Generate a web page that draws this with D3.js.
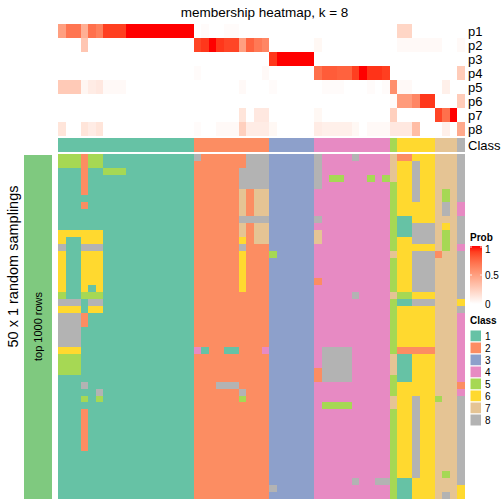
<!DOCTYPE html>
<html><head><meta charset="utf-8">
<script src="https://cdn.jsdelivr.net/npm/d3@7"></script>
<style>
body{margin:0;background:#fff}
text{font-family:"Liberation Sans",Arial,Helvetica,sans-serif;fill:#000}
</style>
</head><body>
<svg id="chart" width="504" height="504"></svg>
<script>
// ---------- data ----------
const title = "membership heatmap, k = 8";
const classNames = ["1","2","3","4","5","6","7","8"];
const classColors = ["#66C2A5","#FC8D62","#8DA0CB","#E78AC3","#A6D854","#FFD92F","#E5C494","#B3B3B3"];
const probNames = ["p1","p2","p3","p4","p5","p6","p7","p8"];
const probTicks = [0, 0.5, 1];

// class of each of the 54 columns (top annotation)
const columnClass = "111111111111111111 2222222222 333333 4444444444 5 66666 777 8";

// membership probabilities per column
const p1 = [0.5,0.7,0.7,0.42,0.72,0.65,0.9,0.9,0.9,1,1,1,1,1,1,1,1,1, 0,0.02,0,0,0.02,0.02,0,0,0,0, 0,0,0,0,0,0, 0,0,0,0,0,0,0,0,0,0, 0, 0.22,0.22,0,0,0, 0,0,0, 0];
const p2 = [0,0,0,0.3,0,0,0,0,0,0,0,0,0,0,0,0,0,0, 0.88,0.92,1,0.92,0.88,0.88,0.5,0.78,0.68,0.62, 0,0,0,0,0,0, 0.04,0,0,0,0,0,0,0,0,0, 0, 0.03,0.03,0.03,0.03,0.03, 0.03,0,0, 0.03];
const p3 = [0,0,0,0,0,0,0,0,0,0,0,0,0,0,0,0,0,0, 0,0,0,0,0,0,0,0,0,0, 0.92,1,1,1,1,1, 0,0,0,0,0,0,0,0,0,0, 0, 0,0,0,0,0, 0,0,0, 0];
const p4 = [0,0,0,0,0,0,0,0,0,0,0,0,0,0,0,0,0,0, 0.02,0,0,0,0,0,0,0,0,0.03, 0,0,0,0,0,0, 0.72,0.8,0.8,0.78,0.78,0.9,1,0.93,0.93,0.9, 0, 0,0,0,0,0, 0,0,0, 0.27];
const p5 = [0.28,0.28,0.28,0.05,0.1,0.12,0.03,0.03,0.03,0,0,0,0,0,0,0,0,0, 0,0,0,0,0,0,0.03,0,0,0, 0.02,0,0,0,0,0, 0,0.02,0.02,0.02,0,0,0,0.02,0,0.02, 0.58, 0.03,0.03,0,0,0, 0,0.08,0, 0];
const p6 = [0,0,0,0,0,0,0,0,0,0,0,0,0,0,0,0,0,0, 0,0,0,0,0,0,0,0,0,0, 0,0,0,0,0,0, 0,0,0,0,0,0,0,0,0,0, 0.02, 0.52,0.52,0.62,0.92,0.92, 0,0,0, 0.27];
const p7 = [0,0,0,0,0,0,0,0,0,0,0,0,0,0,0,0,0,0, 0,0,0,0,0,0,0.14,0,0.12,0.12, 0,0,0,0,0,0, 0.04,0,0,0,0,0,0,0,0,0, 0.25, 0,0,0,0,0, 0.88,0.72,1, 0];
const p8 = [0.14,0,0,0.14,0.1,0.14,0,0,0,0,0,0,0,0,0,0,0,0, 0.02,0,0,0.03,0.03,0.03,0.25,0.1,0.1,0.1, 0.04,0,0,0,0,0, 0.1,0.08,0.08,0.08,0.08,0.04,0,0.03,0.03,0.03, 0.12, 0.12,0.12,0.35,0,0, 0,0.08,0, 0.45];

// 50 random samplings: class of each column per sampling
const samplings = [
"555255111111111111 8222222888 333333 8444484444 7 22666 777 8",
"555255111111111111 2222222888 333333 8444444444 7 66866 777 8",
"111211555111111111 2222228888 333333 8444444444 7 66866 777 8",
"111211111111111111 2222228888 333333 8455444545 7 66866 777 8",
"111211111111111111 2222228888 333333 8444444444 5 66866 777 8",
"111211111111111111 2222227277 333333 4444444444 5 66866 757 8",
"111111111111111111 2222227277 333333 4444444444 5 66866 757 8",
"111211111111111111 2222227277 333333 4444444444 5 66666 787 4",
"111111111111111111 2222227277 333333 4444444444 5 66666 787 4",
"111111111111111111 2222228888 333333 8444444444 5 11666 777 8",
"111111111111111111 2222227277 333333 4444444444 5 11888 767 8",
"666666111111111111 2222227277 333333 7444444444 5 11888 757 8",
"611666111111111111 2222226277 333333 7444444444 5 66888 757 8",
"811888111111111111 2222228222 333333 4444444444 5 66666 757 4",
"611666111111111111 2222226222 533333 4444444444 7 66888 277 8",
"611666111111111111 2222226222 333333 4444444444 5 66888 777 8",
"611666111111111111 2222226222 333333 4444444444 5 66888 777 8",
"611666111111111111 2222226222 333333 4444444444 5 66888 777 8",
"611666111111111111 2222226222 333333 2444444444 5 66888 777 8",
"611616111111111111 2222226222 333333 4444444444 5 66888 777 8",
"511555111111111111 2222222222 333333 4444484444 7 55666 777 8",
"888188111111111111 2222222222 333333 4444444444 5 11888 777 6",
"666166111111111111 2222222222 333333 4444444444 5 66666 777 8",
"888211111111111111 2222222222 333333 4444444444 5 66666 777 4",
"888211111111111111 2222222222 333333 4444444444 5 66666 777 4",
"888111111111111111 2222222222 333333 4444444444 5 66666 777 4",
"888111111111111111 2222222222 333333 4444444444 5 66666 777 4",
"888111111111111111 2222222222 333333 4444444444 5 66666 777 4",
"666111111111111111 4122112224 333333 4888844444 5 22222 777 4",
"555111111111111111 2222222222 333333 4888844444 7 11666 777 4",
"555111111111111111 2222222222 333333 4888844444 7 11666 777 4",
"555111111111111111 2222222222 333333 2888844444 7 11666 777 4",
"111111111111111111 2222222222 333333 2888844444 5 11666 777 4",
"111811111111111111 2228882222 333333 4444444444 5 66666 777 2",
"111118111111111111 2222228222 333333 4444444444 5 66666 777 4",
"111515111111111111 2222225222 333333 4444444444 7 66866 577 8",
"111111111111111111 2222222222 333333 4555544444 7 66866 777 8",
"111211111111111111 2222222222 333333 4444444444 5 66866 777 8",
"111211111111111111 2222222222 333333 4444444444 5 66866 777 8",
"111211111111111111 2222222222 333333 4444444444 5 66866 777 8",
"111211111111111111 2222222222 333333 4444444444 5 66866 777 8",
"111211111111111111 2222222222 333333 4444444444 5 66866 777 8",
"111211111111111111 2222222222 333333 4444444444 5 66866 777 8",
"111111111111111111 2222222222 333333 4444444444 5 66866 777 8",
"111111111111111111 2222222222 333333 4444444444 5 66866 777 8",
"111111111111111111 2222222222 333333 4444444444 5 66866 777 8",
"111111111111111111 2222222222 333333 4444444444 5 66866 757 8",
"111111111111111111 2222222222 333333 4444484488 5 11666 777 8",
"111111111111111111 2222222222 833333 4444444444 5 11666 777 6",
"111111111111111111 2222222222 333333 4444444444 5 11666 787 6"
];

// ---------- drawing ----------
const svg = d3.select("#chart");
const clean = s => s.replace(/ /g, "").split("");
const colClass = clean(columnClass);
const probData = [p1, p2, p3, p4, p5, p6, p7, p8];
const nCol = colClass.length;

const x = d3.scaleBand().domain(d3.range(nCol)).range([58, 465]);
const yMem = d3.scaleBand().domain(probNames).range([24, 136]);
const yMain = d3.scaleBand().domain(d3.range(samplings.length)).range([154, 499]);
const probColor = d3.scaleLinear().domain([0, 1]).range(["#FFFFFF", "#FF0000"]).interpolate(d3.interpolateLab);
const classColor = d3.scaleOrdinal().domain(classNames).range(classColors);

// title
svg.append("text").attr("x", 264.5).attr("y", 16.5).attr("text-anchor", "middle")
  .style("font-size", "13.5px").text(title);

// membership heatmap
const memCells = [];
probData.forEach((arr, i) => arr.forEach((v, j) => memCells.push({row: probNames[i], col: j, v})));
svg.append("g").attr("shape-rendering", "crispEdges").selectAll("rect").data(memCells).join("rect")
  .attr("x", d => x(d.col)).attr("y", d => yMem(d.row))
  .attr("width", x.bandwidth() + 0.4).attr("height", yMem.bandwidth() + 0.2)
  .attr("fill", d => probColor(d.v));

svg.append("g").selectAll("text").data(probNames).join("text")
  .attr("x", 468).attr("y", d => yMem(d) + yMem.bandwidth() / 2).attr("dy", "0.36em")
  .style("font-size", "13px").text(d => d);

// class annotation
svg.append("g").attr("shape-rendering", "crispEdges").selectAll("rect").data(colClass.map((c, j) => ({c, j}))).join("rect")
  .attr("x", d => x(d.j)).attr("y", 138).attr("width", x.bandwidth() + 0.4).attr("height", 14)
  .attr("fill", d => classColor(d.c));
svg.append("text").attr("x", 468).attr("y", 145).attr("dy", "0.36em").style("font-size", "13px").text("Class");

// main heatmap
const mainCells = [];
samplings.forEach((s, i) => clean(s).forEach((c, j) => mainCells.push({row: i, col: j, c})));
svg.append("g").attr("shape-rendering", "crispEdges").selectAll("rect").data(mainCells).join("rect")
  .attr("x", d => x(d.col)).attr("y", d => yMain(d.row))
  .attr("width", x.bandwidth() + 0.4).attr("height", yMain.bandwidth() + 0.3)
  .attr("fill", d => classColor(d.c));

// left bar
svg.append("rect").attr("x", 24).attr("y", 155).attr("width", 28).attr("height", 344).attr("fill", "#7FC97F");
svg.append("text").attr("transform", `translate(41.5,${(154 + 499) / 2}) rotate(-90)`)
  .attr("text-anchor", "middle").style("font-size", "11px").text("top 1000 rows");
svg.append("text").attr("transform", `translate(17.5,266.5) rotate(-90)`)
  .attr("text-anchor", "middle").style("font-size", "14.5px").text("50 x 1 random samplings");

// Prob legend
const defs = svg.append("defs");
const grad = defs.append("linearGradient").attr("id", "pg").attr("x1", 0).attr("y1", 1).attr("x2", 0).attr("y2", 0);
d3.range(0, 1.01, 0.1).forEach(t => grad.append("stop").attr("offset", t).attr("stop-color", probColor(t)));
svg.append("text").attr("x", 470).attr("y", 240.5).style("font-size", "10px").style("font-weight", "bold").text("Prob");
const yLeg = d3.scaleLinear().domain([0, 1]).range([304, 246]);
svg.append("rect").attr("x", 470).attr("y", 246).attr("width", 12).attr("height", 58).attr("fill", "url(#pg)");
const tickG = svg.append("g");
probTicks.forEach(t => {
  const yy = Math.min(Math.max(yLeg(t), 247), 303);
  tickG.append("line").attr("x1", 470).attr("x2", 472).attr("y1", yy).attr("y2", yy).attr("stroke", "#fff").attr("stroke-width", 0.8);
  tickG.append("line").attr("x1", 480).attr("x2", 482).attr("y1", yy).attr("y2", yy).attr("stroke", "#fff").attr("stroke-width", 0.8);
  tickG.append("text").attr("x", 485).attr("y", t === 1 ? 249 : yLeg(t)).attr("dy", "0.36em")
    .style("font-size", "10px").text(t === 0.5 ? "0.5" : String(t));
});

// Class legend
svg.append("text").attr("x", 470).attr("y", 324.3).style("font-size", "10px").style("font-weight", "bold").text("Class");
const lg = svg.append("g").selectAll("g").data(classNames).join("g")
  .attr("transform", (d, i) => `translate(470,${330 + i * 12})`);
lg.append("rect").attr("width", 11.5).attr("height", 12).attr("fill", d => classColor(d)).attr("stroke", "#fff").attr("stroke-width", 1);
lg.append("text").attr("x", 15).attr("y", 6).attr("dy", "0.36em").style("font-size", "10px").text(d => d);
</script>
</body></html>
